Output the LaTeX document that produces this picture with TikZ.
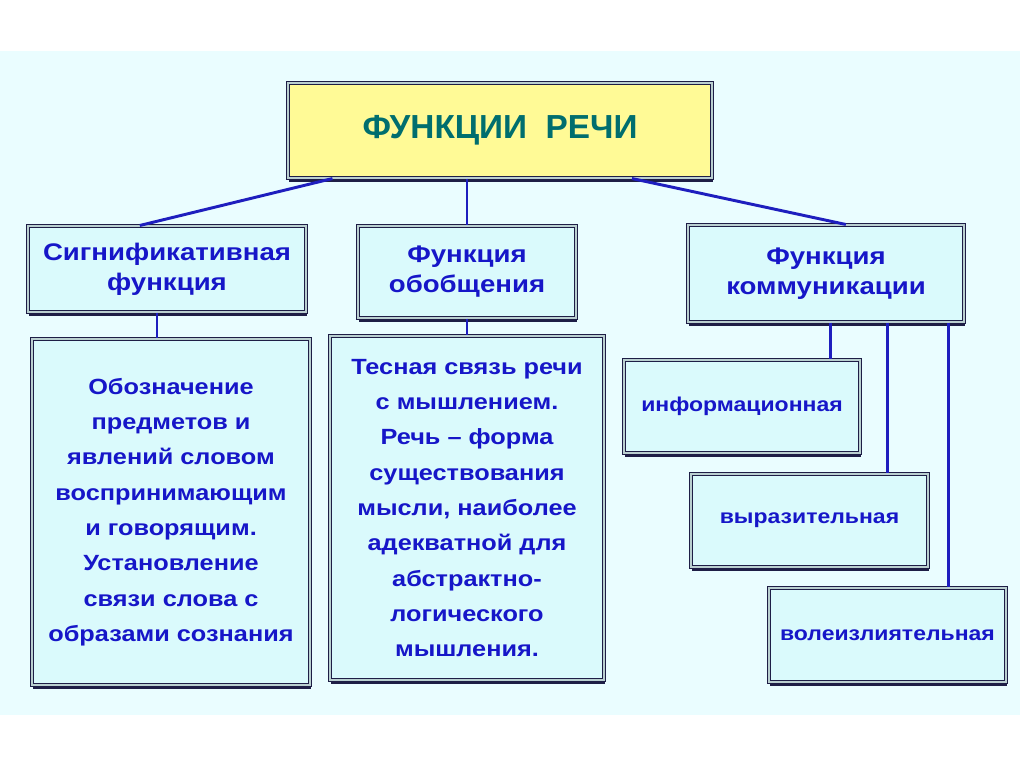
\documentclass[tikz,border=0pt]{standalone}
\usepackage{fontspec}
\setmainfont{Liberation Sans}
\newfontfamily\widesans{Liberation Sans}[FakeStretch=1.15]
\usetikzlibrary{shadows}

\definecolor{bgcyan}{RGB}{234,253,255}
\definecolor{boxcyan}{RGB}{218,250,252}
\definecolor{titleyellow}{RGB}{255,250,150}
\definecolor{linkblue}{RGB}{30,30,190}
\definecolor{textblue}{RGB}{22,22,200}
\definecolor{titleteal}{RGB}{0,110,110}
\definecolor{framenavy}{RGB}{30,30,70}

\tikzset{
  card/.style={draw=framenavy, line width=0.8pt, double=gray!35!boxcyan,
    double distance=1.1pt, fill=boxcyan, inner sep=0pt, align=center,
    text=textblue,
    drop shadow={shadow xshift=0.8pt, shadow yshift=-2.8pt, fill=framenavy, opacity=1}},
  boxsize/.style 2 args={minimum width=#1*0.75pt, minimum height=#2*0.75pt},
  headfont/.style={font=\widesans\bfseries\fontsize{18}{22.5}\selectfont},
  bodyfont/.style={font=\widesans\bfseries\fontsize{16.5}{26.5}\selectfont},
  smallfont/.style={font=\widesans\bfseries\fontsize{15}{18}\selectfont},
  link/.style={draw=linkblue, line width=2.2pt}
}

\begin{document}
\begin{tikzpicture}[x=0.75pt, y=-0.75pt]
  % page and background
  \useasboundingbox (0,0) rectangle (1024,767);
  \fill[bgcyan] (0,51) rectangle (1020,715);

  % top
  \node[card, fill=titleyellow, boxsize={424}{95}, text=titleteal,
        font=\bfseries\fontsize{25}{30}\selectfont] (title) at (500,130.5) {ФУНКЦИИ\ \ РЕЧИ};

  % three functions
  \node[card, headfont, boxsize={278}{86}] (sig) at (167,269) {Сигнификативная\\функция};
  \node[card, headfont, boxsize={218}{92}] (obob) at (467,272) {Функция\\обобщения};
  \node[card, headfont, boxsize={276}{97}] (komm) at (826,273.5) {Функция\\коммуникации};

  % descriptions
  \node[card, bodyfont, boxsize={278}{346}] (sigtext) at (171,512)
    {Обозначение\\предметов и\\явлений словом\\воспринимающим\\и говорящим.\\Установление\\связи слова с\\образами сознания};
  \node[card, bodyfont, boxsize={274}{344}] (obobtext) at (467,508)
    {Тесная связь речи\\с мышлением.\\Речь – форма\\существования\\мысли, наиболее\\адекватной для\\абстрактно-\\логического\\мышления.};

  % kinds of communication
  \node[card, smallfont, boxsize={236}{93}] (info) at (742,406.5) {информационная};
  \node[card, smallfont, boxsize={237}{93}] (vyraz) at (809.5,520.5) {выразительная};
  \node[card, smallfont, boxsize={237}{94}] (vol) at (887.5,635) {волеизлиятельная};

  % connectors
  \draw[link] (title.196) -- (sig.122);
  \draw[link] (title.south -| obob.north) -- (obob.north);
  \draw[link] (title.340) -- (komm.68.6);
  \draw[link] ([xshift=-7.5pt]sig.south) -- ([xshift=-7.5pt]sig.south |- sigtext.north);
  \draw[link] (obob.south) -- (obob.south |- obobtext.north);
  \draw[link] (komm.south -| info.28.7) -- (info.28.7);
  \draw[link] (komm.south -| vyraz.31) -- (vyraz.31);
  \draw[link] (komm.south -| vol.38.3) -- (vol.38.3);
\end{tikzpicture}
\end{document}
